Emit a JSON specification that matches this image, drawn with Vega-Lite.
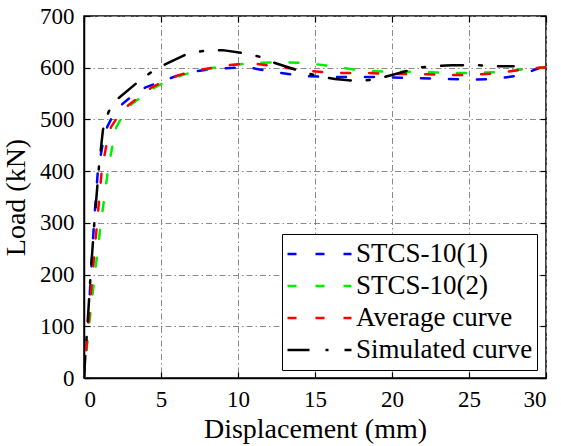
{
  "$schema": "https://vega.github.io/schema/vega-lite/v6.json",
  "width": 462,
  "height": 362,
  "autosize": "none",
  "padding": {"left": 84, "top": 16, "right": 15, "bottom": 68},
  "config": {
    "font": "Liberation Serif",
    "view": {"stroke": "black", "strokeWidth": 1.5},
    "style": {
      "guide-label": {"font": "Liberation Serif", "fontSize": 23, "fill": "black"},
      "guide-title": {"font": "Liberation Serif", "fontSize": 28, "fill": "black", "fontWeight": "normal"}
    },
    "axis": {
      "domainColor": "black",
      "domainWidth": 1.5,
      "tickColor": "black",
      "tickWidth": 1.2,
      "tickSize": -6,
      "labelFont": "Liberation Serif",
      "titleFont": "Liberation Serif",
      "labelFontSize": 23,
      "titleFontSize": 28,
      "labelColor": "black",
      "titleColor": "black",
      "titleFontWeight": "normal",
      "gridColor": "#8a8a8a",
      "gridWidth": 1,
      "gridDash": [6, 3, 1.5, 3]
    },
    "legend": {
      "orient": "none",
      "legendX": 198,
      "legendY": 218,
      "strokeColor": "black",
      "fillColor": "white",
      "padding": 4,
      "symbolType": "stroke",
      "symbolSize": 4096,
      "clipHeight": 32,
      "rowPadding": 0,
      "labelOffset": 3,
      "labelFont": "Liberation Serif",
      "labelFontSize": 27,
      "labelColor": "black",
      "labelLimit": 300
    }
  },
  "data": {
    "values": [
      {"series": "STCS-10(1)", "x": 0, "y": 0},
      {"series": "STCS-10(1)", "x": 0.12, "y": 50},
      {"series": "STCS-10(1)", "x": 0.25, "y": 100},
      {"series": "STCS-10(1)", "x": 0.45, "y": 200},
      {"series": "STCS-10(1)", "x": 0.65, "y": 300},
      {"series": "STCS-10(1)", "x": 0.9, "y": 400},
      {"series": "STCS-10(1)", "x": 1.2, "y": 450},
      {"series": "STCS-10(1)", "x": 1.5, "y": 485},
      {"series": "STCS-10(1)", "x": 2.0, "y": 515},
      {"series": "STCS-10(1)", "x": 2.5, "y": 530},
      {"series": "STCS-10(1)", "x": 3.3, "y": 550},
      {"series": "STCS-10(1)", "x": 4.0, "y": 562},
      {"series": "STCS-10(1)", "x": 4.9, "y": 572},
      {"series": "STCS-10(1)", "x": 6.0, "y": 584},
      {"series": "STCS-10(1)", "x": 7.0, "y": 592},
      {"series": "STCS-10(1)", "x": 8.4, "y": 598},
      {"series": "STCS-10(1)", "x": 10.6, "y": 601},
      {"series": "STCS-10(1)", "x": 12.3, "y": 592},
      {"series": "STCS-10(1)", "x": 14.2, "y": 584},
      {"series": "STCS-10(1)", "x": 15.9, "y": 582},
      {"series": "STCS-10(1)", "x": 17.7, "y": 582},
      {"series": "STCS-10(1)", "x": 19.4, "y": 582},
      {"series": "STCS-10(1)", "x": 21.3, "y": 580},
      {"series": "STCS-10(1)", "x": 23.1, "y": 579},
      {"series": "STCS-10(1)", "x": 24.9, "y": 577},
      {"series": "STCS-10(1)", "x": 26.7, "y": 578},
      {"series": "STCS-10(1)", "x": 28.4, "y": 586},
      {"series": "STCS-10(1)", "x": 29.6, "y": 600},
      {"series": "STCS-10(2)", "x": 0, "y": 0},
      {"series": "STCS-10(2)", "x": 0.15, "y": 50},
      {"series": "STCS-10(2)", "x": 0.32, "y": 100},
      {"series": "STCS-10(2)", "x": 0.7, "y": 200},
      {"series": "STCS-10(2)", "x": 1.1, "y": 300},
      {"series": "STCS-10(2)", "x": 1.55, "y": 400},
      {"series": "STCS-10(2)", "x": 1.85, "y": 450},
      {"series": "STCS-10(2)", "x": 2.1, "y": 485},
      {"series": "STCS-10(2)", "x": 2.6, "y": 512},
      {"series": "STCS-10(2)", "x": 3.1, "y": 530},
      {"series": "STCS-10(2)", "x": 3.8, "y": 545},
      {"series": "STCS-10(2)", "x": 4.6, "y": 562},
      {"series": "STCS-10(2)", "x": 5.4, "y": 574},
      {"series": "STCS-10(2)", "x": 6.4, "y": 586},
      {"series": "STCS-10(2)", "x": 7.4, "y": 594},
      {"series": "STCS-10(2)", "x": 8.6, "y": 601},
      {"series": "STCS-10(2)", "x": 9.6, "y": 605},
      {"series": "STCS-10(2)", "x": 11.0, "y": 609},
      {"series": "STCS-10(2)", "x": 12.7, "y": 611},
      {"series": "STCS-10(2)", "x": 14.5, "y": 609},
      {"series": "STCS-10(2)", "x": 16.3, "y": 602},
      {"series": "STCS-10(2)", "x": 18.1, "y": 594},
      {"series": "STCS-10(2)", "x": 19.9, "y": 592},
      {"series": "STCS-10(2)", "x": 21.7, "y": 592},
      {"series": "STCS-10(2)", "x": 23.6, "y": 590},
      {"series": "STCS-10(2)", "x": 25.3, "y": 590},
      {"series": "STCS-10(2)", "x": 27.1, "y": 592},
      {"series": "STCS-10(2)", "x": 28.8, "y": 598},
      {"series": "STCS-10(2)", "x": 30, "y": 601},
      {"series": "Average curve", "x": 0, "y": 0},
      {"series": "Average curve", "x": 0.13, "y": 50},
      {"series": "Average curve", "x": 0.28, "y": 100},
      {"series": "Average curve", "x": 0.55, "y": 200},
      {"series": "Average curve", "x": 0.85, "y": 300},
      {"series": "Average curve", "x": 1.15, "y": 400},
      {"series": "Average curve", "x": 1.45, "y": 450},
      {"series": "Average curve", "x": 1.75, "y": 485},
      {"series": "Average curve", "x": 2.3, "y": 510},
      {"series": "Average curve", "x": 2.9, "y": 528},
      {"series": "Average curve", "x": 3.6, "y": 544},
      {"series": "Average curve", "x": 4.4, "y": 562},
      {"series": "Average curve", "x": 5.2, "y": 574},
      {"series": "Average curve", "x": 6.2, "y": 586},
      {"series": "Average curve", "x": 7.2, "y": 594},
      {"series": "Average curve", "x": 8.4, "y": 600},
      {"series": "Average curve", "x": 9.4, "y": 605},
      {"series": "Average curve", "x": 10.8, "y": 609},
      {"series": "Average curve", "x": 12.5, "y": 602},
      {"series": "Average curve", "x": 14.5, "y": 594},
      {"series": "Average curve", "x": 16.2, "y": 590},
      {"series": "Average curve", "x": 18.2, "y": 590},
      {"series": "Average curve", "x": 19.9, "y": 588},
      {"series": "Average curve", "x": 21.6, "y": 588},
      {"series": "Average curve", "x": 23.4, "y": 586},
      {"series": "Average curve", "x": 25.3, "y": 586},
      {"series": "Average curve", "x": 27.0, "y": 590},
      {"series": "Average curve", "x": 28.8, "y": 598},
      {"series": "Average curve", "x": 30, "y": 601},
      {"series": "Simulated curve", "x": 0, "y": 0},
      {"series": "Simulated curve", "x": 0.1, "y": 50},
      {"series": "Simulated curve", "x": 0.22, "y": 100},
      {"series": "Simulated curve", "x": 0.43, "y": 200},
      {"series": "Simulated curve", "x": 0.67, "y": 300},
      {"series": "Simulated curve", "x": 0.97, "y": 408},
      {"series": "Simulated curve", "x": 1.23, "y": 480},
      {"series": "Simulated curve", "x": 1.6, "y": 515},
      {"series": "Simulated curve", "x": 2.2, "y": 540},
      {"series": "Simulated curve", "x": 3.4, "y": 570},
      {"series": "Simulated curve", "x": 4.3, "y": 590},
      {"series": "Simulated curve", "x": 5.3, "y": 607},
      {"series": "Simulated curve", "x": 6.8, "y": 628},
      {"series": "Simulated curve", "x": 7.9, "y": 633},
      {"series": "Simulated curve", "x": 9.0, "y": 634},
      {"series": "Simulated curve", "x": 10.6, "y": 627},
      {"series": "Simulated curve", "x": 11.6, "y": 620},
      {"series": "Simulated curve", "x": 12.4, "y": 609},
      {"series": "Simulated curve", "x": 14.2, "y": 592},
      {"series": "Simulated curve", "x": 15.2, "y": 584},
      {"series": "Simulated curve", "x": 16.3, "y": 578},
      {"series": "Simulated curve", "x": 17.9, "y": 574},
      {"series": "Simulated curve", "x": 19.0, "y": 578},
      {"series": "Simulated curve", "x": 20.0, "y": 586},
      {"series": "Simulated curve", "x": 21.7, "y": 600},
      {"series": "Simulated curve", "x": 22.7, "y": 603},
      {"series": "Simulated curve", "x": 23.9, "y": 605},
      {"series": "Simulated curve", "x": 25.5, "y": 605},
      {"series": "Simulated curve", "x": 26.6, "y": 603},
      {"series": "Simulated curve", "x": 27.9, "y": 603}
    ]
  },
  "layer": [
    {
      "mark": {"type": "line", "strokeCap": "round", "clip": true},
      "encoding": {
        "x": {
          "field": "x", "type": "quantitative",
          "scale": {"domain": [0, 30], "nice": false},
          "axis": {"title": "Displacement (mm)", "values": [0, 5, 10, 15, 20, 25, 30], "labelFont": "Liberation Serif", "labelPadding": 16, "titlePadding": 4}
        },
        "y": {
          "field": "y", "type": "quantitative",
          "scale": {"domain": [0, 700], "nice": false},
          "axis": {"title": "Load (kN)", "values": [0, 100, 200, 300, 400, 500, 600, 700], "labelFont": "Liberation Serif", "labelPadding": 16, "titlePadding": 9}
        },
        "color": {
          "field": "series", "type": "nominal",
          "scale": {"domain": ["STCS-10(1)", "STCS-10(2)", "Average curve", "Simulated curve"], "range": ["#0000ff", "#00ee00", "#ff0000", "#000000"]},
          "legend": {"title": null}
        },
        "strokeDash": {
          "field": "series", "type": "nominal",
          "scale": {"domain": ["STCS-10(1)", "STCS-10(2)", "Average curve", "Simulated curve"], "range": [[9, 19], [9, 19], [9, 19], [22, 16, 3, 16]]},
          "legend": {"title": null}
        },
        "strokeWidth": {
          "field": "series", "type": "nominal",
          "scale": {"domain": ["STCS-10(1)", "STCS-10(2)", "Average curve", "Simulated curve"], "range": [2.5, 2.5, 2.5, 4.5]},
          "legend": {"title": null}
        }
      }
    },
    {
      "mark": {"type": "line", "opacity": 0},
      "encoding": {
        "x": {
          "field": "x", "type": "quantitative",
          "axis": {"orient": "top", "title": null, "labels": false, "grid": false, "domain": false, "values": [0, 5, 10, 15, 20, 25, 30]}
        },
        "y": {
          "field": "y", "type": "quantitative",
          "axis": {"orient": "right", "title": null, "labels": false, "grid": false, "domain": false, "values": [0, 100, 200, 300, 400, 500, 600, 700]}
        },
        "detail": {"field": "series"}
      }
    }
  ],
  "resolve": {"axis": {"x": "independent", "y": "independent"}}
}
